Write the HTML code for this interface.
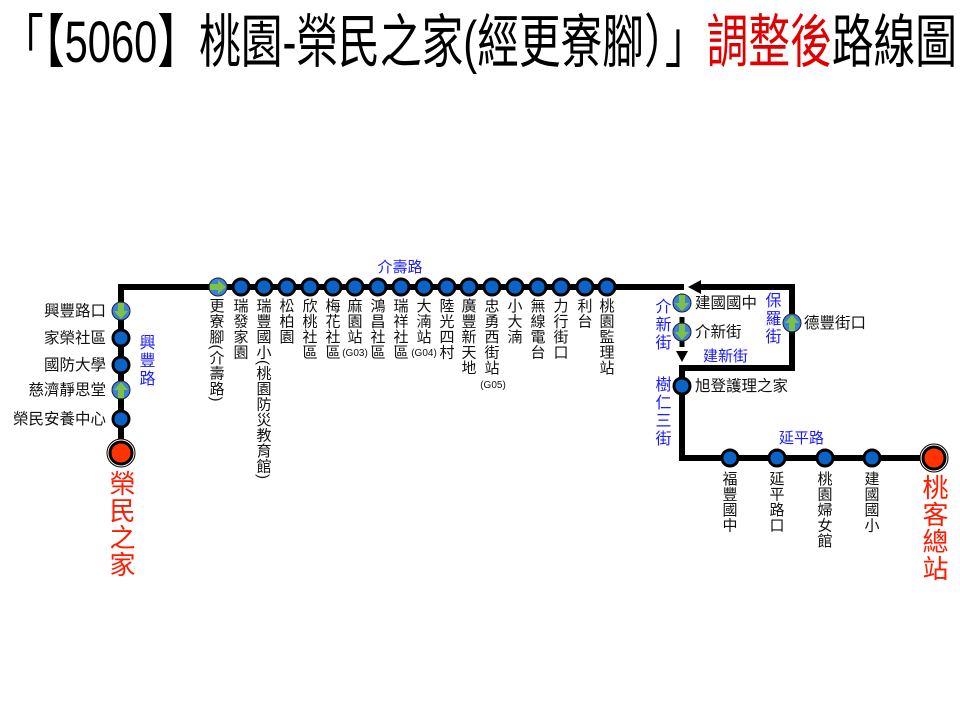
<!DOCTYPE html>
<html><head><meta charset="utf-8"><style>
html,body{margin:0;padding:0;background:#fff;}
svg{display:block;font-family:"Liberation Sans","Noto Sans CJK TC",sans-serif;}
.v{writing-mode:vertical-rl;font-size:15px;fill:#111;letter-spacing:0.5px;}
.h{font-size:15.5px;fill:#111;}
.b{fill:#1a1aff;font-size:15px;}
.bv{fill:#1a1aff;font-size:16px;writing-mode:vertical-rl;letter-spacing:2px;}
.st{fill:#0a64c8;stroke:#000;stroke-width:3;}
.ar{fill:#3d7fe0;stroke:#222;stroke-width:1;}
.g{fill:#7cc242;}
</style></head><body>
<svg width="960" height="720" viewBox="0 0 960 720" xmlns="http://www.w3.org/2000/svg">
<defs>
<g id="dn"><circle r="9" class="ar"/><path class="g" d="M-3,-8 H3 V0 H7 L0,8 L-7,0 H-3 Z"/></g>
<g id="up"><circle r="9" class="ar"/><path class="g" d="M-3,8 H3 V0 H7 L0,-8 L-7,0 H-3 Z"/></g>
<g id="rt"><circle r="9" class="ar"/><path class="g" d="M-8,-3 V3 H0 V7 L8,0 L0,-7 V-3 Z"/></g>
<g id="term"><circle r="14" fill="#fff" stroke="#000" stroke-width="1"/><circle r="11" fill="#ff3300" stroke="#000" stroke-width="3"/></g>
</defs>
<text x="2" y="62" font-size="58" textLength="955" lengthAdjust="spacingAndGlyphs" fill="#000">「【5060】桃園-榮民之家(經更寮腳）」<tspan fill="#e00000">調整後</tspan>路線圖</text>

<g stroke="#000" stroke-width="6" fill="none">
<polyline points="121,453 121,287 684,287"/>
<polyline points="700,287 792,287 792,368 682,368 682,458 934,458"/>
</g>
<path d="M688,287 L701,280 L701,294 Z" fill="#000"/>
<g stroke="#000" stroke-width="5">
<line x1="682" y1="317" x2="682" y2="323"/>
<line x1="682" y1="341" x2="682" y2="347"/>
</g>
<path d="M676,351 L688,351 L682,362 Z" fill="#000"/>

<use href="#dn" x="121" y="311"/>
<circle class="st" cx="121" cy="338" r="8"/>
<circle class="st" cx="121" cy="365" r="8"/>
<use href="#up" x="121" y="390"/>
<circle class="st" cx="121" cy="419" r="8"/>
<use href="#term" x="121" y="453"/>
<g class="h" text-anchor="end">
<text x="106" y="316">興豐路口</text>
<text x="106" y="343">家榮社區</text>
<text x="106" y="370">國防大學</text>
<text x="106" y="395">慈濟靜思堂</text>
<text x="106" y="424">榮民安養中心</text>
</g>
<text class="bv" x="145" y="334">興豐路</text>
<text x="121" y="470" style="writing-mode:vertical-rl;font-size:26px;letter-spacing:1px;fill:#ff1a00;">榮民之家</text>

<use href="#rt" x="218" y="287"/>
<g>
<circle class="st" cx="241" cy="287" r="8"/><circle class="st" cx="264" cy="287" r="8"/>
<circle class="st" cx="287" cy="287" r="8"/><circle class="st" cx="310" cy="287" r="8"/>
<circle class="st" cx="333" cy="287" r="8"/><circle class="st" cx="355" cy="287" r="8"/>
<circle class="st" cx="378" cy="287" r="8"/><circle class="st" cx="401" cy="287" r="8"/>
<circle class="st" cx="424" cy="287" r="8"/><circle class="st" cx="447" cy="287" r="8"/>
<circle class="st" cx="469" cy="287" r="8"/><circle class="st" cx="492" cy="287" r="8"/>
<circle class="st" cx="515" cy="287" r="8"/><circle class="st" cx="538" cy="287" r="8"/>
<circle class="st" cx="561" cy="287" r="8"/><circle class="st" cx="585" cy="287" r="8"/>
<circle class="st" cx="607" cy="287" r="8"/>
</g>
<g class="v">
<text x="216" y="298">更寮腳(介壽路)</text>
<text x="240" y="298">瑞發家園</text>
<text x="263" y="298">瑞豐國小(桃園防災教育館)</text>
<text x="286" y="298">松柏園</text>
<text x="309" y="298">欣桃社區</text>
<text x="332" y="298">梅花社區</text>
<text x="354" y="298">麻園站</text>
<text x="377" y="298">鴻昌社區</text>
<text x="400" y="298">瑞祥社區</text>
<text x="423" y="298">大湳站</text>
<text x="446" y="298">陸光四村</text>
<text x="468" y="298">廣豐新天地</text>
<text x="491" y="298">忠勇西街站</text>
<text x="514" y="298">小大湳</text>
<text x="537" y="298">無線電台</text>
<text x="560" y="298">力行街口</text>
<text x="584" y="298">利台</text>
<text x="606" y="298">桃園監理站</text>
</g>
<g font-size="10" fill="#111" text-anchor="middle">
<text x="355" y="356">(G03)</text>
<text x="424" y="356">(G04)</text>
<text x="493" y="388">(G05)</text>
</g>
<text class="b" x="400" y="272" text-anchor="middle">介壽路</text>

<use href="#dn" x="682" y="303"/>
<use href="#dn" x="682" y="332"/>
<use href="#up" x="792" y="323"/>
<circle class="st" cx="682" cy="386" r="8"/>
<g class="h">
<text x="695" y="308">建國國中</text>
<text x="695" y="337">介新街</text>
<text x="804" y="328">德豐街口</text>
<text x="695" y="391">旭登護理之家</text>
</g>
<text class="bv" x="661" y="298">介新街</text>
<text class="bv" x="771" y="292">保羅街</text>
<text class="b" x="703" y="361">建新街</text>
<text class="bv" x="661" y="376">樹仁三街</text>
<text class="b" x="779" y="443">延平路</text>

<circle class="st" cx="730" cy="458" r="8"/>
<circle class="st" cx="777" cy="458" r="8"/>
<circle class="st" cx="825" cy="458" r="8"/>
<circle class="st" cx="872" cy="458" r="8"/>
<use href="#term" x="934" y="458"/>
<g class="v">
<text x="729" y="471">福豐國中</text>
<text x="776" y="471">延平路口</text>
<text x="824" y="471">桃園婦女館</text>
<text x="871" y="471">建國國小</text>
</g>
<text x="934" y="474" style="writing-mode:vertical-rl;font-size:26px;letter-spacing:1px;fill:#ff1a00;">桃客總站</text>
</svg>
</body></html>
